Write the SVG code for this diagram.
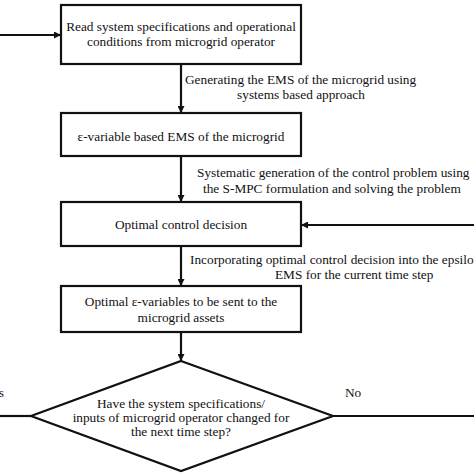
<svg xmlns="http://www.w3.org/2000/svg" width="474" height="474" viewBox="0 0 474 474" font-family="'Liberation Serif', 'DejaVu Serif', serif">
<style>
.box{fill:#fff;stroke:#111;stroke-width:2.2}
.ln{fill:none;stroke:#111;stroke-width:2.2}
text{font-family:'Liberation Serif','DejaVu Serif',serif;font-size:13.3px;fill:#111}
.c{text-anchor:middle}
</style>
<defs>
<marker id="ah" viewBox="0 0 10 10" refX="10" refY="5" markerWidth="7" markerHeight="7" markerUnits="userSpaceOnUse" orient="auto">
<path d="M0,0 L10,5 L0,10 z" fill="#111"/>
</marker>
</defs>
<rect width="474" height="474" fill="#fff"/>
<g id="connectors">
<line class="ln" x1="0" y1="35" x2="61" y2="35" marker-end="url(#ah)"/>
<line class="ln" x1="181" y1="64" x2="181" y2="113" marker-end="url(#ah)"/>
<line class="ln" x1="181" y1="156" x2="181" y2="202" marker-end="url(#ah)"/>
<line class="ln" x1="181" y1="246" x2="181" y2="286" marker-end="url(#ah)"/>
<line class="ln" x1="181" y1="332" x2="181" y2="361" marker-end="url(#ah)"/>
<line class="ln" x1="474" y1="225" x2="301" y2="225" marker-end="url(#ah)"/>
<line class="ln" x1="0" y1="416" x2="31" y2="416"/>
<line class="ln" x1="333" y1="416" x2="474" y2="416"/>
<text x="185" y="84">Generating the EMS of the microgrid using</text>
<text x="301" y="99" class="c">systems based approach</text>
<text x="197" y="177">Systematic generation of the control problem using</text>
<text x="203" y="193">the S-MPC formulation and solving the problem</text>
<text x="190" y="264">Incorporating optimal control decision into the epsilon</text>
<text x="275" y="279">EMS for the current time step</text>
<text x="4" y="397" text-anchor="end">Yes</text>
<text x="345" y="397">No</text>
</g>
<g id="n1">
<rect class="box" x="61" y="5" width="240" height="59"/>
<text x="181" y="31" class="c">Read system specifications and operational</text>
<text x="181" y="46" class="c">conditions from microgrid operator</text>
</g>
<g id="n2">
<rect class="box" x="61" y="113" width="240" height="43"/>
<text x="181" y="141" class="c">ε-variable based EMS of the microgrid</text>
</g>
<g id="n3">
<rect class="box" x="61" y="202" width="240" height="44"/>
<text x="181" y="229" class="c">Optimal control decision</text>
</g>
<g id="n4">
<rect class="box" x="61" y="286" width="240" height="46"/>
<text x="181" y="306" class="c">Optimal ε-variables to be sent to the</text>
<text x="181" y="322" class="c">microgrid assets</text>
</g>
<g id="n5">
<polygon class="box" points="181,361 333,416 181,471 31,416"/>
<text x="181" y="408" class="c">Have the system specifications/</text>
<text x="181" y="422" class="c">inputs of microgrid operator changed for</text>
<text x="181" y="436" class="c">the next time step?</text>
</g>
</svg>
